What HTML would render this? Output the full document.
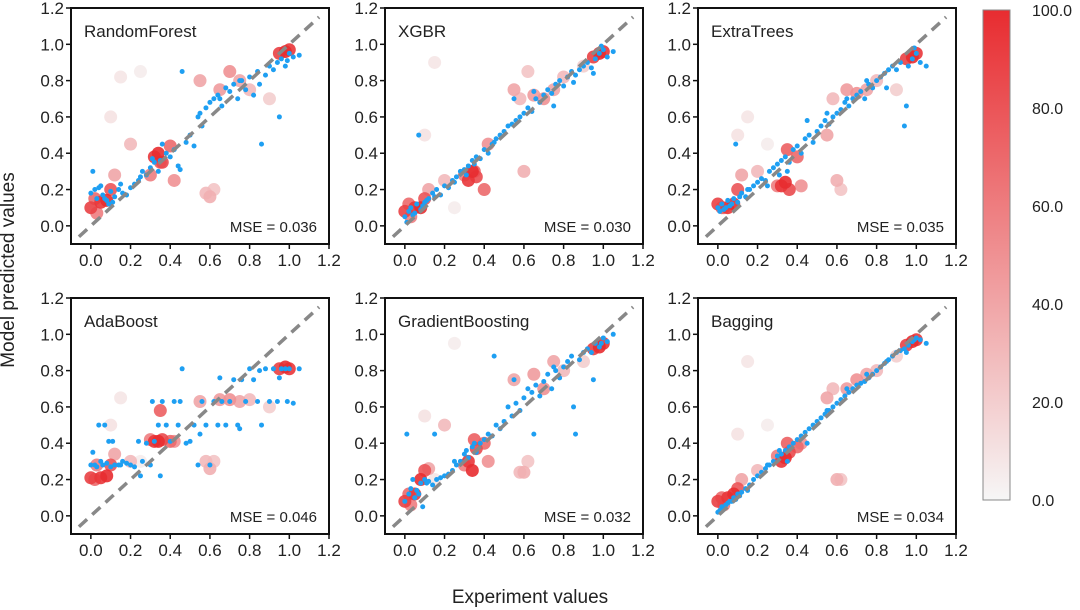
<!DOCTYPE html>
<html><head><meta charset="utf-8">
<style>
body{margin:0;background:#fff;}
svg{display:block;font-family:"Liberation Sans",Arial,sans-serif;}
</style></head>
<body>
<svg id="chart" width="1080" height="610" viewBox="0 0 1080 610">
<defs>
<linearGradient id="cbgrad" x1="0" y1="1" x2="0" y2="0">
<stop offset="0" stop-color="rgb(246,246,246)"/>
<stop offset="1" stop-color="rgb(232,44,48)"/>
</linearGradient>
</defs>
<text x="14" y="270" transform="rotate(-90 14 270)" text-anchor="middle" font-size="19" fill="#222">Model predicted values</text>
<text x="530" y="603" text-anchor="middle" font-size="19" fill="#222">Experiment values</text>
<rect x="983" y="10" width="27" height="490" fill="url(#cbgrad)" stroke="#888" stroke-width="1"/>
<g id="cbticks"></g>
<g id="panels"></g>
</svg>
<script>
const panelNames = ["RandomForest","XGBR","ExtraTrees","AdaBoost","GradientBoosting","Bagging"];
const mseLabels = ["MSE = 0.036","MSE = 0.030","MSE = 0.035","MSE = 0.046","MSE = 0.032","MSE = 0.034"];
const axisTicks = [0.0,0.2,0.4,0.6,0.8,1.0,1.2];
const axisTickLabels = ["0.0","0.2","0.4","0.6","0.8","1.0","1.2"];
const colorbarTicks = [0,20,40,60,80,100];
const colorbarTickLabels = ["0.0","20.0","40.0","60.0","80.0","100.0"];

const blueX = [0.0,0.02,0.03,0.05,0.06,0.08,0.1,0.12,0.14,0.16,0.18,0.2,0.22,0.24,0.26,0.28,0.3,0.32,0.34,0.36,0.38,0.4,0.42,0.44,0.46,0.48,0.5,0.52,0.54,0.56,0.58,0.6,0.62,0.64,0.66,0.68,0.7,0.72,0.74,0.76,0.78,0.8,0.82,0.84,0.86,0.88,0.9,0.92,0.94,0.96,0.98,1.0,1.02,1.05,0.01,0.04,0.09,0.15,0.35,0.45,0.07,0.11,0.25,0.31,0.55,0.65,0.75,0.85,0.95,0.99];
const bluePredRF = [0.18,0.2,0.15,0.22,0.17,0.14,0.19,0.16,0.2,0.18,0.17,0.21,0.23,0.25,0.3,0.28,0.32,0.35,0.3,0.45,0.4,0.38,0.42,0.33,0.85,0.46,0.5,0.44,0.6,0.55,0.65,0.68,0.7,0.72,0.66,0.76,0.74,0.78,0.7,0.8,0.75,0.82,0.72,0.85,0.45,0.83,0.88,0.86,0.9,0.92,0.88,0.95,0.93,0.94,0.3,0.21,0.12,0.23,0.36,0.31,0.15,0.13,0.27,0.37,0.62,0.7,0.8,0.78,0.6,0.91];
const bluePredXG = [0.05,0.08,0.1,0.07,0.12,0.09,0.13,0.15,0.18,0.2,0.17,0.22,0.21,0.25,0.27,0.3,0.31,0.33,0.36,0.38,0.37,0.42,0.4,0.45,0.48,0.5,0.52,0.55,0.56,0.58,0.6,0.62,0.65,0.63,0.7,0.68,0.72,0.75,0.73,0.78,0.8,0.77,0.82,0.85,0.83,0.86,0.88,0.9,0.87,0.92,0.95,0.97,0.93,0.96,0.02,0.06,0.11,0.16,0.34,0.46,0.5,0.14,0.24,0.28,0.7,0.74,0.66,0.79,0.84,0.99];
const bluePredET = [0.1,0.12,0.09,0.14,0.11,0.15,0.13,0.18,0.16,0.2,0.22,0.24,0.26,0.25,0.3,0.32,0.34,0.36,0.38,0.35,0.42,0.44,0.4,0.48,0.5,0.46,0.52,0.55,0.58,0.56,0.6,0.62,0.64,0.68,0.66,0.7,0.72,0.74,0.7,0.78,0.76,0.8,0.82,0.84,0.86,0.88,0.86,0.9,0.55,0.88,0.92,0.95,0.9,0.88,0.08,0.1,0.45,0.2,0.3,0.58,0.12,0.16,0.22,0.28,0.62,0.7,0.8,0.76,0.66,0.98];
const bluePredAB = [0.28,0.28,0.27,0.3,0.28,0.29,0.27,0.28,0.28,0.3,0.29,0.28,0.27,0.41,0.3,0.4,0.28,0.41,0.5,0.63,0.5,0.41,0.63,0.5,0.81,0.4,0.41,0.5,0.28,0.63,0.5,0.28,0.63,0.5,0.63,0.5,0.63,0.75,0.5,0.75,0.63,0.81,0.75,0.63,0.5,0.81,0.63,0.81,0.63,0.81,0.81,0.81,0.62,0.81,0.35,0.5,0.41,0.28,0.22,0.63,0.5,0.41,0.22,0.63,0.45,0.76,0.48,0.8,0.76,0.63];
const bluePredGB = [0.08,0.12,0.15,0.1,0.14,0.18,0.2,0.19,0.17,0.2,0.21,0.22,0.23,0.25,0.28,0.3,0.34,0.32,0.38,0.35,0.4,0.42,0.45,0.44,0.5,0.48,0.52,0.6,0.55,0.62,0.58,0.65,0.7,0.68,0.72,0.66,0.74,0.78,0.7,0.8,0.76,0.82,0.85,0.88,0.45,0.86,0.9,0.92,0.9,0.95,0.93,0.98,0.96,1.0,0.45,0.2,0.05,0.45,0.4,0.88,0.12,0.18,0.3,0.36,0.75,0.45,0.82,0.6,0.75,0.95];
const bluePredBG = [0.02,0.05,0.04,0.07,0.08,0.1,0.12,0.13,0.15,0.17,0.2,0.22,0.24,0.26,0.28,0.3,0.33,0.34,0.36,0.38,0.4,0.42,0.44,0.46,0.48,0.5,0.52,0.54,0.56,0.58,0.6,0.62,0.64,0.66,0.68,0.7,0.72,0.73,0.74,0.76,0.78,0.8,0.82,0.84,0.86,0.88,0.9,0.91,0.92,0.94,0.96,0.98,0.97,0.95,0.03,0.06,0.09,0.14,0.3,0.4,0.08,0.11,0.28,0.36,0.58,0.7,0.78,0.85,0.9,0.97];

const redX = [0.0,0.02,0.05,0.08,0.1,0.12,0.2,0.3,0.32,0.34,0.36,0.4,0.42,0.55,0.6,0.65,0.7,0.75,0.8,0.9,0.95,0.98,1.0,0.1,0.25,0.03,0.58,0.35,0.62,0.15];
const redVal = [90,70,95,100,80,40,30,60,95,100,85,70,50,40,35,45,50,40,30,20,90,100,95,10,5,60,30,75,25,8];
const redPredRF = [0.1,0.15,0.13,0.14,0.2,0.28,0.45,0.28,0.38,0.4,0.35,0.44,0.25,0.8,0.16,0.75,0.85,0.8,0.75,0.7,0.95,0.96,0.97,0.6,0.85,0.07,0.18,0.35,0.2,0.82];
const redPredXG = [0.08,0.12,0.1,0.1,0.15,0.2,0.25,0.28,0.25,0.3,0.27,0.2,0.45,0.75,0.3,0.72,0.7,0.75,0.82,0.88,0.93,0.95,0.96,0.5,0.1,0.05,0.7,0.3,0.85,0.9];
const redPredET = [0.12,0.1,0.1,0.12,0.2,0.28,0.3,0.22,0.22,0.24,0.2,0.38,0.22,0.5,0.25,0.75,0.73,0.75,0.8,0.75,0.92,0.93,0.95,0.5,0.45,0.1,0.7,0.42,0.2,0.6];
const redPredAB = [0.21,0.2,0.21,0.22,0.28,0.34,0.3,0.42,0.41,0.41,0.42,0.41,0.41,0.63,0.26,0.64,0.64,0.63,0.64,0.6,0.81,0.82,0.81,0.5,0.3,0.28,0.3,0.58,0.3,0.65];
const redPredGB = [0.08,0.12,0.12,0.2,0.25,0.26,0.5,0.28,0.3,0.25,0.37,0.4,0.3,0.75,0.24,0.78,0.7,0.85,0.8,0.85,0.92,0.93,0.95,0.55,0.95,0.06,0.24,0.42,0.3,0.2];
const redPredBG = [0.08,0.1,0.1,0.12,0.15,0.2,0.25,0.33,0.3,0.32,0.35,0.38,0.4,0.65,0.2,0.7,0.75,0.78,0.8,0.88,0.94,0.96,0.97,0.45,0.5,0.06,0.7,0.4,0.2,0.85];

const bluePreds = [bluePredRF,bluePredXG,bluePredET,bluePredAB,bluePredGB,bluePredBG];
const redPreds = [redPredRF,redPredXG,redPredET,redPredAB,redPredGB,redPredBG];

const NS="http://www.w3.org/2000/svg";
const svg=document.getElementById('panels');
const lefts=[71,385,698], tops=[8,298], PW=258, PH=236;
const dmin=-0.1, dmax=1.2;
function mk(tag,attrs,parent){const e=document.createElementNS(NS,tag);for(const k in attrs)e.setAttribute(k,attrs[k]);parent.appendChild(e);return e;}
function redColor(v){const t=v/100;const r=Math.round(246+(232-246)*t),g=Math.round(246+(44-246)*t),b=Math.round(246+(48-246)*t);return `rgb(${r},${g},${b})`;}

panelNames.forEach((name,i)=>{
  const L=lefts[i%3], T=tops[Math.floor(i/3)];
  const sx=v=>L+(v-dmin)/(dmax-dmin)*PW;
  const sy=v=>T+PH-(v-dmin)/(dmax-dmin)*PH;
  const g=mk('g',{},svg);
  
  
  const pts=mk('g',{},g);
  
  
  const rp=redPreds[i];
  const idx=redX.map((_,k)=>k).sort((a,b)=>redVal[a]-redVal[b]);
  const rg=mk('g',{},g);
  
  
  idx.forEach(k=>{
    const c=mk('circle',{cx:sx(redX[k]),cy:sy(rp[k]),r:6.5,fill:redColor(redVal[k]),'fill-opacity':0.9},rg);
    
    
  });
  const bp=bluePreds[i];
  blueX.forEach((x,k)=>{
    const c=mk('circle',{cx:sx(x),cy:sy(bp[k]),r:2.5,fill:'#1e9ff2'},pts);
    
    
  });
  g.appendChild(pts);
  const d=mk('line',{x1:sx(-0.06),y1:sy(-0.06),x2:sx(1.15),y2:sy(1.15),stroke:'#888','stroke-width':3.5,'stroke-dasharray':'11 7'},g);
  
  
  const fr=mk('rect',{x:L,y:T,width:PW,height:PH,fill:'none',stroke:'#111','stroke-width':2},g);
  
  
  axisTicks.forEach((t,k)=>{
    mk('line',{x1:sx(t),y1:T+PH,x2:sx(t),y2:T+PH+5,stroke:'#111','stroke-width':1.5},g);
    const xl=mk('text',{x:sx(t),y:T+PH+22,'text-anchor':'middle','font-size':17,fill:'#222'},g);
    xl.textContent=axisTickLabels[k];
    
    
    mk('line',{x1:L-5,y1:sy(t),x2:L,y2:sy(t),stroke:'#111','stroke-width':1.5},g);
    const yl=mk('text',{x:L-7,y:sy(t)+6,'text-anchor':'end','font-size':17,fill:'#222'},g);
    yl.textContent=axisTickLabels[k];
    
    
  });
  const tt=mk('text',{x:L+13,y:T+29,'font-size':17,fill:'#222'},g);
  tt.textContent=name;
  
  
  const ms=mk('text',{x:L+PW-12,y:T+PH-12,'text-anchor':'end','font-size':15,fill:'#222'},g);
  ms.textContent=mseLabels[i];
  
  
});
const cb=document.getElementById('cbticks');
colorbarTicks.forEach((v,k)=>{
  const y=500-v/100*490;
  const t=mk('text',{x:1032,y:y+6,'font-size':16,fill:'#222'},cb);
  t.textContent=colorbarTickLabels[k];
  
  
});
</script>
</body></html>
